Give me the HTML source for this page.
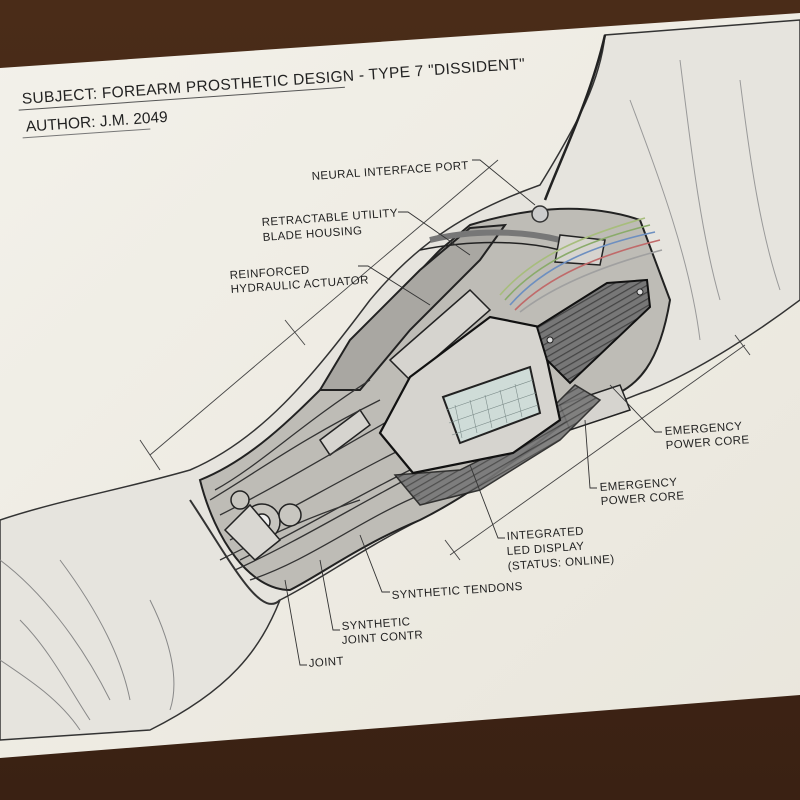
<!DOCTYPE html>
<html><head><meta charset="utf-8"><style>
html,body{margin:0;padding:0;width:800px;height:800px;overflow:hidden;background:#3b2416}
svg{display:block}
text{font-family:"Liberation Sans",sans-serif;fill:#222}
</style></head><body>
<svg width="800" height="800" viewBox="0 0 800 800" xmlns="http://www.w3.org/2000/svg">
<defs>
<linearGradient id="wood" x1="0" y1="0" x2="0" y2="1">
<stop offset="0" stop-color="#4a2c18"/><stop offset="1" stop-color="#3a2113"/></linearGradient>
<linearGradient id="paper" x1="0" y1="0" x2="1" y2="1">
<stop offset="0" stop-color="#f3f1ea"/><stop offset="1" stop-color="#e9e6dc"/></linearGradient>
<pattern id="carbon" width="6" height="6" patternUnits="userSpaceOnUse" patternTransform="rotate(60)">
<rect width="6" height="6" fill="#777"/><line x1="0" y1="0" x2="0" y2="6" stroke="#444" stroke-width="2.5"/></pattern>
</defs>
<rect width="800" height="800" fill="url(#wood)"/>
<polygon points="0,68 800,13 800,695 0,758" fill="url(#paper)"/>
<g transform="rotate(-4 20 100)">
<text x="22" y="104" font-size="15.5" letter-spacing="0.3">SUBJECT: FOREARM PROSTHETIC DESIGN - TYPE 7 "DISSIDENT"</text>
<line x1="18" y1="110" x2="345" y2="110" stroke="#555" stroke-width="1"/>
<text x="24" y="132" font-size="15.5">AUTHOR: J.M. 2049</text>
<line x1="20" y1="138" x2="148" y2="138" stroke="#777" stroke-width="1"/>
</g>
<!-- arm skin -->
<path d="M0,520 C60,500 120,490 190,470 C260,440 310,380 370,300 C420,240 470,210 540,185 C580,120 600,80 605,35 L800,20 L800,300 C760,330 700,370 650,390 C560,420 480,490 420,520 C360,550 320,580 280,600 C260,650 230,690 150,730 L0,740 Z" fill="#e6e4de" stroke="#333" stroke-width="1.5"/>
<path d="M605,35 C590,100 560,160 545,200" fill="none" stroke="#222" stroke-width="2.5"/>
<path d="M680,60 C690,140 700,230 720,300 M740,80 C750,160 760,230 780,290 M630,100 C660,180 690,260 700,340" fill="none" stroke="#999" stroke-width="1"/>
<path d="M0,560 C40,590 80,640 110,700 M20,620 C50,650 70,690 90,720 M60,560 C90,600 120,650 130,700 M0,660 C30,680 60,700 80,730 M150,600 C170,640 180,680 170,710" fill="none" stroke="#888" stroke-width="1"/>
<path d="M190,500 C230,560 260,620 280,600" fill="none" stroke="#333" stroke-width="2"/>
<!-- device body -->
<path d="M200,480 C250,460 290,420 330,380 L350,350 C380,320 400,290 440,250 L470,225 C520,210 580,200 640,220 L670,300 C660,360 640,390 600,400 C560,420 500,480 420,520 C360,545 320,575 290,590 C250,590 215,540 200,480 Z" fill="#bebcb6" stroke="#222" stroke-width="2"/>
<path d="M320,390 L350,340 L420,270 L470,228 L505,225 L480,260 L410,330 L360,390 Z" fill="#a9a7a2" stroke="#222" stroke-width="2"/>
<g stroke="#222" stroke-width="1.5" fill="#d6d4cf">
<path d="M390,360 L470,290 L490,310 L410,380 Z"/>
<path d="M430,240 C470,230 520,230 560,240" fill="none" stroke-width="6" stroke="#777"/>
<path d="M420,250 C470,240 520,240 560,250" fill="none"/>
<path d="M560,235 L605,240 L600,265 L555,262 Z"/>
<path d="M320,440 L360,410 L370,425 L330,455 Z"/>
<path d="M560,405 L620,385 L630,410 L570,430 Z"/>
</g>
<g fill="none" stroke-width="1.6">
<path d="M505,300 C540,260 590,240 650,225" stroke="#8aab6a"/>
<path d="M510,305 C545,265 595,245 655,232" stroke="#6d8fc0"/>
<path d="M515,310 C550,275 600,255 660,240" stroke="#c06a6a"/>
<path d="M520,312 C555,285 605,265 662,250" stroke="#a0a0a0"/>
<path d="M500,295 C535,255 585,235 645,218" stroke="#a7bd7c"/>
</g>
<g fill="none" stroke="#333" stroke-width="1.3">
<path d="M210,500 C260,470 300,440 380,400"/>
<path d="M220,515 C270,490 320,460 390,420"/>
<path d="M230,540 C290,510 340,480 400,450"/>
<path d="M240,560 C300,530 350,500 410,470"/>
<path d="M250,580 C310,560 360,520 420,495"/>
<path d="M220,560 C260,540 300,520 360,500"/>
<path d="M215,490 C260,465 300,425 370,380"/>
<path d="M235,570 C290,545 340,515 405,480"/>
</g>
<path d="M395,475 L420,505 L480,490 L560,440 L600,400 L575,385 L520,440 L460,470 Z" fill="url(#carbon)" stroke="#222" stroke-width="1.5" opacity="0.9"/>
<polygon points="410,377 490,317 540,327 560,420 513,453 413,473 380,433" fill="#d6d4cf" stroke="#111" stroke-width="2.2"/>
<polygon points="443,397 530,367 540,413 460,443" fill="#cfdcd8" stroke="#222" stroke-width="2"/>
<g stroke="#7a8a88" stroke-width="0.6">
<line x1="455" y1="405" x2="462" y2="438"/><line x1="470" y1="400" x2="477" y2="433"/><line x1="485" y1="395" x2="492" y2="428"/><line x1="500" y1="390" x2="507" y2="423"/><line x1="515" y1="384" x2="522" y2="417"/>
<line x1="446" y1="410" x2="533" y2="380"/><line x1="449" y1="423" x2="536" y2="393"/><line x1="452" y1="435" x2="538" y2="405"/>
</g>
<polygon points="537,327 607,283 647,280 650,307 570,383 547,360" fill="url(#carbon)" stroke="#111" stroke-width="2"/>
<circle cx="550" cy="340" r="3" fill="#ddd" stroke="#222"/><circle cx="640" cy="292" r="3" fill="#ddd" stroke="#222"/>
<circle cx="540" cy="214" r="8" fill="#ccc" stroke="#333" stroke-width="1.5"/>
<g stroke="#222" stroke-width="1.5" fill="#c8c6c0">
<circle cx="262" cy="522" r="18"/><circle cx="262" cy="522" r="8" fill="#eee"/>
<circle cx="290" cy="515" r="11"/><circle cx="240" cy="500" r="9"/>
<path d="M225,530 L250,505 L280,540 L255,560 Z" fill="#d9d7d2"/>
</g>
<g stroke="#444" stroke-width="0.9" fill="none">
<line x1="150" y1="455" x2="498" y2="160"/>
<line x1="140" y1="440" x2="160" y2="470"/>
<line x1="285" y1="320" x2="305" y2="345"/>
<line x1="450" y1="555" x2="745" y2="345"/>
<line x1="445" y1="540" x2="460" y2="560"/>
<line x1="735" y1="335" x2="750" y2="355"/>
</g>
<g stroke="#333" stroke-width="0.9" fill="none">
<path d="M472,160 L480,160 L535,205"/>
<path d="M398,212 L408,212 L470,255"/>
<path d="M358,266 L368,266 L430,305"/>
<path d="M662,432 L655,432 L610,385"/>
<path d="M597,488 L590,488 L585,420"/>
<path d="M505,538 L498,538 L470,465"/>
<path d="M390,592 L382,592 L360,535"/>
<path d="M340,630 L333,630 L320,560"/>
<path d="M307,665 L300,665 L285,580"/>
</g>
<g font-size="11.5" letter-spacing="0.4">
<text x="312" y="180" transform="rotate(-4 312 180)">NEURAL INTERFACE PORT</text>
<text x="262" y="226" transform="rotate(-4 262 226)">RETRACTABLE UTILITY</text>
<text x="263" y="241" transform="rotate(-4 263 241)">BLADE HOUSING</text>
<text x="230" y="279" transform="rotate(-4 230 279)">REINFORCED</text>
<text x="231" y="293" transform="rotate(-4 231 293)">HYDRAULIC ACTUATOR</text>
<text x="665" y="435" transform="rotate(-4 665 435)">EMERGENCY</text>
<text x="666" y="449" transform="rotate(-4 666 449)">POWER CORE</text>
<text x="600" y="491" transform="rotate(-4 600 491)">EMERGENCY</text>
<text x="601" y="505" transform="rotate(-4 601 505)">POWER CORE</text>
<text x="507" y="540" transform="rotate(-4 507 540)">INTEGRATED</text>
<text x="507" y="555" transform="rotate(-4 507 555)">LED DISPLAY</text>
<text x="508" y="570" transform="rotate(-4 508 570)">(STATUS: ONLINE)</text>
<text x="392" y="599" transform="rotate(-4 392 599)">SYNTHETIC TENDONS</text>
<text x="342" y="630" transform="rotate(-4 342 630)">SYNTHETIC</text>
<text x="342" y="644" transform="rotate(-4 342 644)">JOINT CONTR</text>
<text x="309" y="667" transform="rotate(-4 309 667)">JOINT</text>
</g>
</svg>
</body></html>
